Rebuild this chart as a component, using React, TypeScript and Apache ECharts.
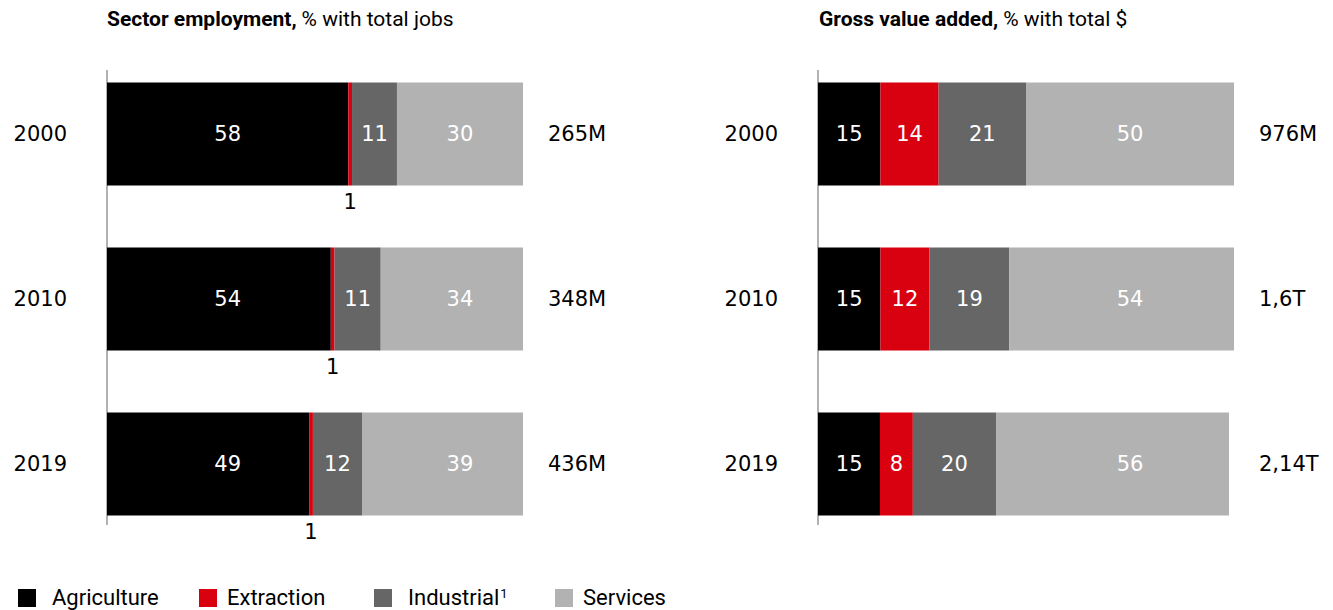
import React, { useEffect, useRef } from "react";
import * as echarts from "echarts";

const years = ["2000", "2010", "2019"];
const sectors = ["Agriculture", "Extraction", "Industrial", "Services"];
const colors = ["#000000", "#d9000f", "#666666", "#b2b2b2"];

// Sector employment, % of total jobs
const empAgriculture = [58, 53.8, 48.6];
const empExtraction = [0.9, 0.9, 0.9];
const empIndustrial = [10.8, 11.1, 11.8];
const empServices = [30.3, 34.2, 38.7];
const empTotals = ["265M", "348M", "436M"];

// Gross value added, % of total $
const gvaAgriculture = [15, 15, 14.9];
const gvaExtraction = [14, 11.8, 7.9];
const gvaIndustrial = [21, 19.2, 20];
const gvaServices = [50, 54, 56];
const gvaTotals = ["976M", "1,6T", "2,14T"];

const NUM_FONT = "DejaVu Sans";
const TXT_FONT = "Roboto";
const GRID_W = 416;

export default function App() {
  const ref = useRef<HTMLDivElement>(null);
  useEffect(() => {
    if (!ref.current) return;
    const chart = echarts.init(ref.current, null, { renderer: "svg" });
    const empData = [empAgriculture, empExtraction, empIndustrial, empServices];
    const gvaData = [gvaAgriculture, gvaExtraction, gvaIndustrial, gvaServices];
    const pxPerUnit = GRID_W / 100;

    const mkSeries = (data: number[][], idx: number) => {
      const rowSum = (r: number) => data.reduce((s, d) => s + d[r], 0);
      // first and last segment labels keep the horizontal position of the first row
      const offsetFor = (i: number, r: number) => {
        if (i === 0) return (data[0][0] / 2 - data[0][r] / 2) * pxPerUnit;
        if (i === data.length - 1) {
          const last = data.length - 1;
          const target = rowSum(0) - data[last][0] / 2;
          const center = rowSum(r) - data[last][r] / 2;
          return (target - center) * pxPerUnit;
        }
        return 0;
      };
      return sectors.map((name, i) => {
        const outsideBelow = idx === 0 && i === 1;
        return {
          name,
          type: "bar",
          stack: "s" + idx,
          xAxisIndex: idx,
          yAxisIndex: idx * 2,
          barWidth: 103,
          data: data[i].map((v, r) => ({ value: v, label: { offset: [offsetFor(i, r), 0] } })),
          itemStyle: { color: colors[i] },
          label: {
            show: true,
            position: outsideBelow ? "bottom" : "inside",
            distance: 6,
            color: outsideBelow ? "#000" : "#fff",
            fontFamily: NUM_FONT,
            fontSize: 21,
            formatter: (p: any) => String(Math.round(p.value)),
          },
        };
      });
    };

    const grids = [
      { left: 107, width: GRID_W, top: 51.5, height: 495 },
      { left: 818, width: GRID_W, top: 51.5, height: 495 },
    ];

    const yAxes: any[] = [];
    [empTotals, gvaTotals].forEach((totals, gi) => {
      yAxes.push({
        type: "category",
        gridIndex: gi,
        data: years,
        inverse: true,
        axisLine: { show: false },
        axisTick: { show: false },
        axisLabel: {
          margin: 40,
          color: "#000",
          fontFamily: NUM_FONT,
          fontSize: 21,
        },
      });
      yAxes.push({
        type: "category",
        gridIndex: gi,
        position: "right",
        data: totals,
        inverse: true,
        axisLine: { show: false },
        axisTick: { show: false },
        axisLabel: {
          margin: 25,
          color: "#000",
          fontFamily: NUM_FONT,
          fontSize: 21,
        },
      });
    });

    const legendLefts = [18, 199, 374, 555];
    const legendGaps = [11, 5, 11, 5];
    const legends = sectors.map((name, i) => ({
      left: legendLefts[i],
      top: 586,
      padding: 0,
      itemWidth: 18,
      itemHeight: 18,
      icon: "rect",
      selectedMode: false,
      data: [name],
      textStyle: {
        fontFamily: TXT_FONT,
        fontSize: 22,
        lineHeight: 20,
        color: "#000",
        padding: [0, 0, 2, legendGaps[i]],
        rich: {
          a: { fontFamily: TXT_FONT, fontSize: 22, lineHeight: 20, color: "#000" },
          sup: { fontFamily: TXT_FONT, fontSize: 13, lineHeight: 20, color: "#000", verticalAlign: "top", padding: [0, 0, 12, 1] },
        },
      },
      formatter: (n: string) => (n === "Industrial" ? "{a|Industrial}{sup|1}" : n),
    }));

    chart.setOption({
      animation: false,
      grid: grids,
      xAxis: [0, 1].map((gi) => ({
        type: "value",
        gridIndex: gi,
        min: 0,
        max: 100,
        show: false,
      })),
      yAxis: yAxes,
      legend: legends,
      title: [
        { text: "{b|Sector employment,} {n|% with total jobs}", left: 102, top: 3 },
        { text: "{b|Gross value added,} {n|% with total $}", left: 814, top: 3 },
      ].map((t) => ({
        ...t,
        textStyle: {
          rich: {
            b: { fontFamily: TXT_FONT, fontWeight: "bold", fontSize: 21, color: "#000" },
            n: { fontFamily: TXT_FONT, fontWeight: "normal", fontSize: 21, color: "#000" },
          },
        },
      })),
      graphic: [
        { type: "line", shape: { x1: 107, y1: 70, x2: 107, y2: 525 }, style: { stroke: "#999", lineWidth: 1.5 } },
        { type: "line", shape: { x1: 818, y1: 70, x2: 818, y2: 525 }, style: { stroke: "#999", lineWidth: 1.5 } },
      ],
      series: [...mkSeries(empData, 0), ...mkSeries(gvaData, 1)],
    });
    return () => chart.dispose();
  }, []);
  return <div ref={ref} style={{ position: "absolute", left: 0, top: 0, width: 1333, height: 610 }} />;
}
